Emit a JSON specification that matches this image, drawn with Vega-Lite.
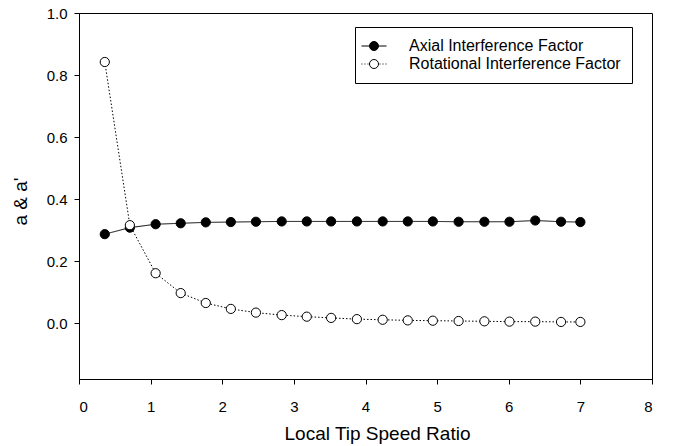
{
  "$schema": "https://vega.github.io/schema/vega-lite/v6.json",
  "autosize": "none",
  "width": 573,
  "height": 366,
  "padding": {"left": 79, "top": 13, "right": 30, "bottom": 67},
  "background": "white",
  "config": {
    "font": "Liberation Sans",
    "view": {"stroke": "black", "strokeWidth": 1},
    "axis": {
      "grid": false,
      "domainColor": "black",
      "tickColor": "black",
      "labelColor": "black",
      "titleColor": "black",
      "tickSize": 5,
      "labelFontSize": 15,
      "titleFontSize": 19,
      "titleFontWeight": "normal",
      "labelFont": "Liberation Sans",
      "titleFont": "Liberation Sans"
    },
    "legend": {
      "orient": "none",
      "legendX": 276,
      "legendY": 14,
      "padding": 11,
      "rowPadding": 2,
      "symbolSize": 196,
      "symbolOpacity": 1,
      "symbolStrokeColor": "black",
      "symbolStrokeWidth": 1,
      "labelOffset": 27,
      "labelFontSize": 16,
      "labelLimit": 400,
      "labelFont": "Liberation Sans",
      "labelColor": "black",
      "strokeColor": "black",
      "fillColor": "white",
      "titlePadding": 0
    }
  },
  "data": {
    "values": [
      {"x": 0.36, "y": 0.287, "series": "Axial Interference Factor"},
      {"x": 0.71, "y": 0.308, "series": "Axial Interference Factor"},
      {"x": 1.07, "y": 0.319, "series": "Axial Interference Factor"},
      {"x": 1.42, "y": 0.322, "series": "Axial Interference Factor"},
      {"x": 1.77, "y": 0.325, "series": "Axial Interference Factor"},
      {"x": 2.12, "y": 0.326, "series": "Axial Interference Factor"},
      {"x": 2.47, "y": 0.327, "series": "Axial Interference Factor"},
      {"x": 2.83, "y": 0.328, "series": "Axial Interference Factor"},
      {"x": 3.18, "y": 0.328, "series": "Axial Interference Factor"},
      {"x": 3.52, "y": 0.328, "series": "Axial Interference Factor"},
      {"x": 3.88, "y": 0.328, "series": "Axial Interference Factor"},
      {"x": 4.24, "y": 0.328, "series": "Axial Interference Factor"},
      {"x": 4.59, "y": 0.328, "series": "Axial Interference Factor"},
      {"x": 4.94, "y": 0.328, "series": "Axial Interference Factor"},
      {"x": 5.30, "y": 0.327, "series": "Axial Interference Factor"},
      {"x": 5.66, "y": 0.327, "series": "Axial Interference Factor"},
      {"x": 6.01, "y": 0.327, "series": "Axial Interference Factor"},
      {"x": 6.37, "y": 0.331, "series": "Axial Interference Factor"},
      {"x": 6.73, "y": 0.327, "series": "Axial Interference Factor"},
      {"x": 7.00, "y": 0.326, "series": "Axial Interference Factor"},
      {"x": 0.36, "y": 0.842, "series": "Rotational Interference Factor"},
      {"x": 0.71, "y": 0.316, "series": "Rotational Interference Factor"},
      {"x": 1.07, "y": 0.161, "series": "Rotational Interference Factor"},
      {"x": 1.42, "y": 0.097, "series": "Rotational Interference Factor"},
      {"x": 1.77, "y": 0.065, "series": "Rotational Interference Factor"},
      {"x": 2.12, "y": 0.046, "series": "Rotational Interference Factor"},
      {"x": 2.47, "y": 0.034, "series": "Rotational Interference Factor"},
      {"x": 2.83, "y": 0.026, "series": "Rotational Interference Factor"},
      {"x": 3.18, "y": 0.021, "series": "Rotational Interference Factor"},
      {"x": 3.52, "y": 0.017, "series": "Rotational Interference Factor"},
      {"x": 3.88, "y": 0.013, "series": "Rotational Interference Factor"},
      {"x": 4.24, "y": 0.011, "series": "Rotational Interference Factor"},
      {"x": 4.59, "y": 0.009, "series": "Rotational Interference Factor"},
      {"x": 4.94, "y": 0.008, "series": "Rotational Interference Factor"},
      {"x": 5.30, "y": 0.007, "series": "Rotational Interference Factor"},
      {"x": 5.66, "y": 0.006, "series": "Rotational Interference Factor"},
      {"x": 6.01, "y": 0.005, "series": "Rotational Interference Factor"},
      {"x": 6.37, "y": 0.005, "series": "Rotational Interference Factor"},
      {"x": 6.73, "y": 0.004, "series": "Rotational Interference Factor"},
      {"x": 7.00, "y": 0.004, "series": "Rotational Interference Factor"}
    ]
  },
  "encoding": {
    "x": {
      "field": "x",
      "type": "quantitative",
      "scale": {"domain": [0, 8], "nice": false, "zero": false},
      "axis": {"values": [0, 1, 2, 3, 4, 5, 6, 7, 8], "format": "d", "title": "Local Tip Speed Ratio", "labelPadding": 15, "titlePadding": 10, "titleX": 298, "titleAlign": "center"}
    },
    "y": {
      "field": "y",
      "type": "quantitative",
      "scale": {"domain": [-0.18, 1.0], "nice": false, "zero": false},
      "axis": {"values": [0, 0.2, 0.4, 0.6, 0.8, 1.0], "format": ".1f", "title": "a & a'", "labelPadding": 7, "titlePadding": 16, "titleY": 188}
    }
  },
  "layer": [
    {
      "mark": {"type": "line", "color": "black", "strokeWidth": 1},
      "encoding": {
        "detail": {"field": "series"},
        "strokeDash": {
          "field": "series",
          "type": "nominal",
          "scale": {"range": [[1, 0], [1.5, 2]]},
          "legend": null
        }
      }
    },
    {
      "mark": {"type": "point", "filled": true, "size": 85, "stroke": "black", "strokeWidth": 1, "opacity": 1},
      "encoding": {
        "color": {
          "field": "series",
          "type": "nominal",
          "scale": {"range": ["black", "white"]},
          "legend": null
        }
      }
    },
    {
      "mark": {"type": "point", "filled": true, "stroke": "black", "strokeWidth": 1, "opacity": 0},
      "encoding": {
        "fill": {
          "field": "series",
          "type": "nominal",
          "title": null,
          "scale": {"domain": ["Axial Interference Factor", "Rotational Interference Factor"], "range": ["black", "white"]},
          "legend": {
            "title": null,
            "encode": {
              "symbols": {"update": {"stroke": {"value": "black"}, "strokeWidth": {"value": 1}, "opacity": {"value": 1}}}
            }
          }
        },
        "shape": {
          "field": "series",
          "type": "nominal",
          "title": null,
          "scale": {
            "domain": ["Axial Interference Factor", "Rotational Interference Factor"],
            "range": [
              "M-1.786,0H-0.643M0.643,0H1.786M-0.643,0A0.643,0.643,0,1,1,0.643,0A0.643,0.643,0,1,1,-0.643,0Z",
              "M-1.79,0H-1.65M-1.36,0H-1.22M-0.93,0H-0.79M0.79,0H0.93M1.22,0H1.36M1.65,0H1.79M-0.643,0A0.643,0.643,0,1,1,0.643,0A0.643,0.643,0,1,1,-0.643,0Z"
            ]
          },
          "legend": {
            "title": null,
            "encode": {
              "symbols": {"update": {"stroke": {"value": "black"}, "strokeWidth": {"value": 1}, "opacity": {"value": 1}}}
            }
          }
        }
      }
    }
  ]
}
